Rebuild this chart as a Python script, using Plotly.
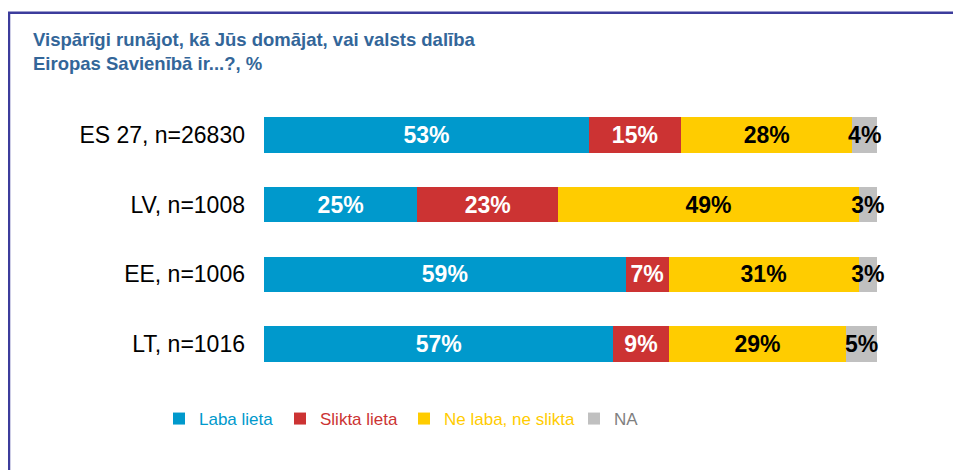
import plotly.graph_objects as go

categories = ["ES 27, n=26830", "LV, n=1008", "EE, n=1006", "LT, n=1016"]
series_names = ["Laba lieta", "Slikta lieta", "Ne laba, ne slikta", "NA"]
laba = [53, 25, 59, 57]
slikta = [15, 23, 7, 9]
ne_laba = [28, 49, 31, 29]
na = [4, 3, 3, 5]
title_text = "Vispārīgi runājot, kā Jūs domājat, vai valsts dalība<br>Eiropas Savienībā ir...?, %"

values = [laba, slikta, ne_laba, na]
colors = ["#0099cc", "#cc3333", "#ffcc00", "#c0c0c0"]
text_colors = ["white", "white", "black", "black"]
legend_text_colors = ["#0099cc", "#cc3333", "#ffcc00", "#808080"]

# the page body has an 8px margin; lay the figure out in reference pixels minus that
OFF = 8
W, H = 961 - OFF, 470 - OFF
ML, MR, MT, MB = 264 - OFF, 961 - 877, 100 - OFF, 470 - 379
PW, PH = W - ML - MR, H - MT - MB

def px_x(x):
    return (x - OFF - ML) / PW

def px_y(y):
    return (H - MB - (y - OFF)) / PH

fig = go.Figure()
legend_ids = ["legend", "legend2", "legend3", "legend4"]
for i in range(4):
    fig.add_trace(go.Bar(
        y=categories, x=values[i], orientation="h", name=series_names[i],
        marker=dict(color=colors[i], line=dict(width=0)),
        text=[f"{v}%" for v in values[i]], textposition="inside",
        insidetextanchor="middle", textangle=0,
        textfont=dict(family="Liberation Sans, Arial, sans-serif", size=23,
                      color=text_colors[i], weight="bold"),
        cliponaxis=False, legend=legend_ids[i], hoverinfo="skip",
    ))

legend_sq = [178, 299, 423, 593]
leg_font = "Liberation Sans, Arial, sans-serif"
legends = {}
for i, lid in enumerate(legend_ids):
    legends[lid] = dict(
        x=px_x(legend_sq[i] - 19), y=px_y(419), xanchor="left", yanchor="middle",
        orientation="h", bgcolor="rgba(0,0,0,0)", borderwidth=0,
        font=dict(family=leg_font, size=17, color=legend_text_colors[i]),
        itemclick=False, itemdoubleclick=False,
    )

fig.update_layout(
    width=W, height=H, margin=dict(l=ML, r=MR, t=MT, b=MB),
    paper_bgcolor="white", plot_bgcolor="white",
    barmode="stack", bargap=0.49, showlegend=True,
    uniformtext=dict(minsize=23, mode="show"),
    title=dict(text=title_text, x=(33 - OFF) / W, xref="container", xanchor="left",
               y=1 - (46 - OFF) / H, yref="container", yanchor="top",
               font=dict(family="Liberation Sans, Arial, sans-serif", size=18.5,
                         color="#336699", weight="bold")),
    xaxis=dict(range=[0, 100], visible=False, fixedrange=True),
    yaxis=dict(autorange="reversed", showgrid=False, zeroline=False, showline=False,
               ticks="", ticklabelstandoff=18,
               tickfont=dict(family="Liberation Sans, Arial, sans-serif", size=23, color="black")),
    shapes=[dict(type="rect", xref="paper", yref="paper",
                 x0=px_x(9), x1=px_x(1000), y0=px_y(520), y1=px_y(12.8),
                 line=dict(color="#3c3c9c", width=2.5), fillcolor="rgba(0,0,0,0)",
                 layer="below")],
    **legends,
)

fig.write_html("out.html")
